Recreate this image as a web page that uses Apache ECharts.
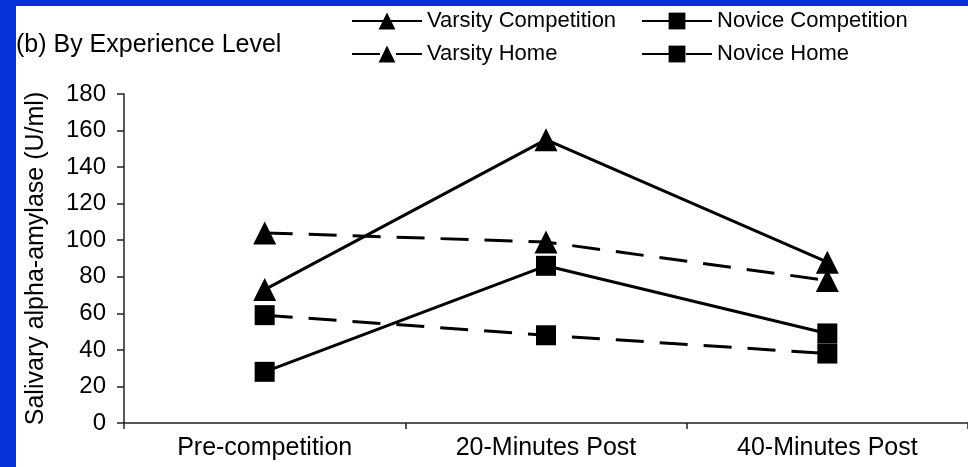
<!DOCTYPE html>
<html>
<head>
<meta charset="utf-8">
<script src="https://cdn.jsdelivr.net/npm/echarts@6/dist/echarts.min.js"></script>
<style>
  html, body { margin: 0; padding: 0; width: 968px; height: 467px; overflow: hidden; background: #0433dd; }
  #chart { position: absolute; left: 16px; top: 6px; width: 952px; height: 461px; background: #ffffff; }
</style>
</head>
<body>
<div id="chart"></div>
<script>
// Sampling times
const categories = ['Pre-competition', '20-Minutes Post', '40-Minutes Post'];

// Salivary alpha-amylase (U/ml) by group and setting
const varsityCompetition = [73, 155, 88];
const varsityHome = [104, 99, 78];
const noviceCompetition = [28, 86, 49];
const noviceHome = [59, 48, 38];

// Value axis range
const yMin = 0;
const yMax = 180;
const yStep = 20;

const FONT = '"Liberation Sans", Arial, Helvetica, sans-serif';
const DASH = [28, 16];

function makeSeries(name, data, symbol, size, dashed) {
  return {
    name: name,
    type: 'line',
    data: data,
    symbol: symbol,
    symbolSize: size,
    showAllSymbol: true,
    lineStyle: { color: '#000', width: 3, type: dashed ? DASH : 'solid' },
    itemStyle: { color: '#000', opacity: 1 },
    emphasis: { disabled: true },
    z: 2
  };
}

const legendBase = {
  orient: 'vertical',
  top: 4,
  padding: 0,
  itemWidth: 70,
  itemHeight: 21,
  itemGap: 11,
  selectedMode: false,
  textStyle: { fontFamily: FONT, fontSize: 22, color: '#000' }
};

const chart = echarts.init(document.getElementById('chart'), null, { renderer: 'canvas' });

chart.setOption({
  animation: false,
  backgroundColor: '#ffffff',
  textStyle: { fontFamily: FONT, color: '#000' },
  title: {
    text: '(b) By Experience Level',
    left: 0,
    top: 27,
    padding: 0,
    textStyle: { fontFamily: FONT, fontSize: 25, fontWeight: 'normal', color: '#000' }
  },
  legend: [
    Object.assign({}, legendBase, { left: 335, data: ['Varsity Competition', 'Varsity Home'] }),
    Object.assign({}, legendBase, { left: 625, data: ['Novice Competition', 'Novice Home'] })
  ],
  grid: { left: 101, top: 88, right: -3, bottom: 44, containLabel: false },
  xAxis: {
    type: 'category',
    data: categories,
    boundaryGap: true,
    axisLine: { lineStyle: { color: '#222', width: 1.5 } },
    axisTick: { show: true, length: 6, inside: false, lineStyle: { color: '#222', width: 1.5 } },
    axisLabel: { fontFamily: FONT, fontSize: 25, color: '#000', margin: 13, interval: 0 },
    splitLine: { show: false }
  },
  yAxis: {
    type: 'value',
    min: yMin,
    max: yMax,
    interval: yStep,
    name: 'Salivary alpha-amylase (U/ml)',
    nameLocation: 'middle',
    nameGap: 75,
    nameTextStyle: { fontFamily: FONT, fontSize: 25, color: '#000' },
    axisLine: { show: true, lineStyle: { color: '#222', width: 1.5 } },
    axisTick: { show: true, length: 7, lineStyle: { color: '#222', width: 1.5 } },
    axisLabel: { fontFamily: FONT, fontSize: 24, color: '#000', margin: 18 },
    splitLine: { show: false }
  },
  series: [
    makeSeries('Varsity Competition', varsityCompetition, 'triangle', [23, 23], false),
    makeSeries('Novice Competition', noviceCompetition, 'rect', [20, 20], false),
    makeSeries('Varsity Home', varsityHome, 'triangle', [23, 23], true),
    makeSeries('Novice Home', noviceHome, 'rect', [20, 20], true)
  ]
});
</script>
</body>
</html>
